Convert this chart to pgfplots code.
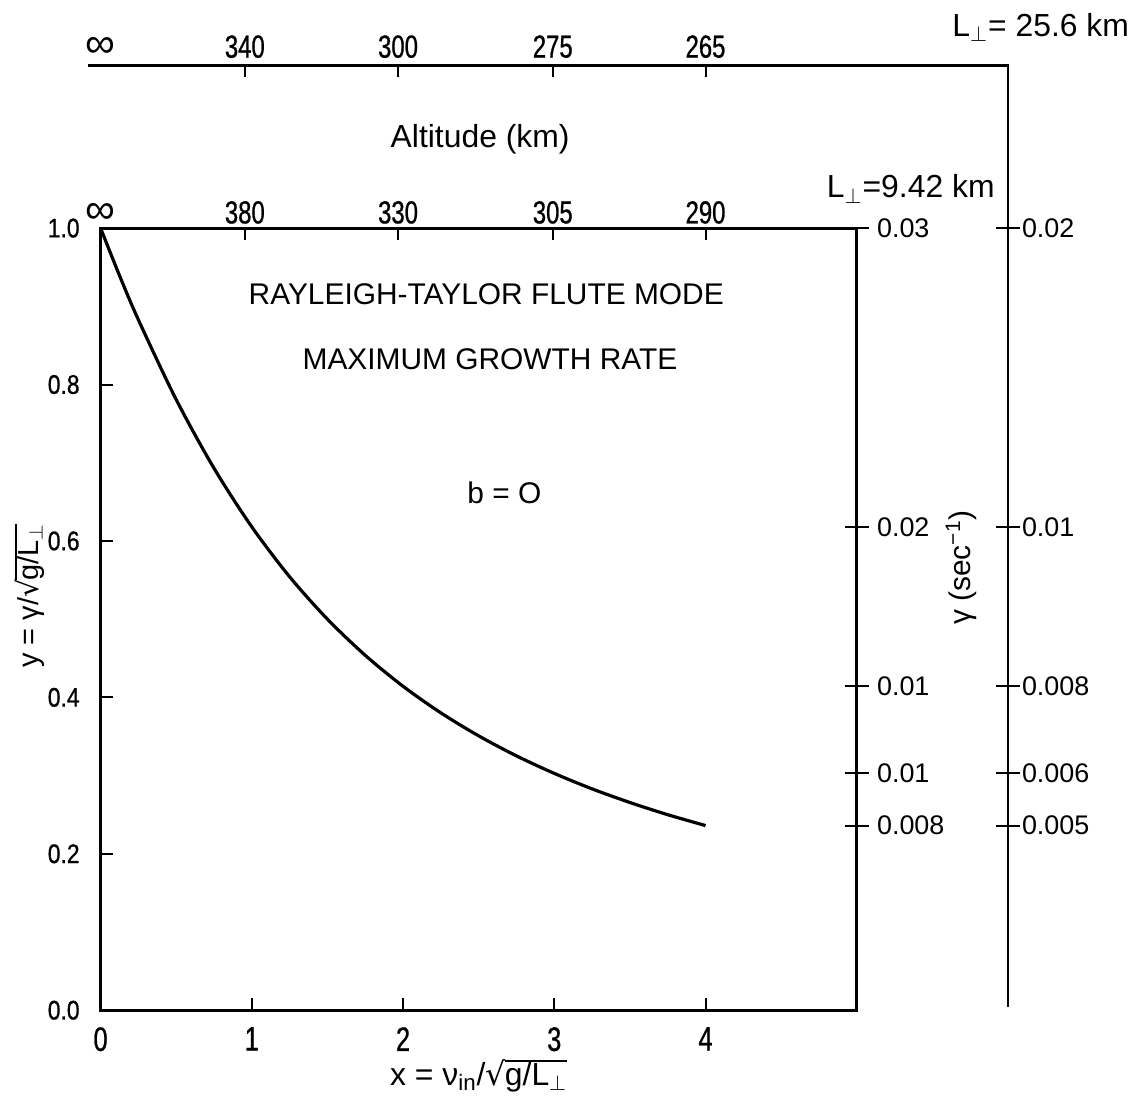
\documentclass[border=0pt]{standalone}
\usepackage{pgfplots}
\pgfplotsset{compat=1.18}
\usepackage{fontspec}
\setmainfont{Liberation Sans}
\newfontfamily\condfont[FakeStretch=0.75,FakeBold=0.8]{Liberation Sans}
\newfontfamily\semicond[FakeStretch=0.85,FakeBold=0.8]{Liberation Sans}
\newfontfamily\djv{DejaVu Sans}
\newcommand\infsym{{\rmfamily\fontsize{21}{21}\selectfont ∞}}
\newlength\sqw
\newsavebox\radbox
\newcommand\flatsqrt[1]{\sbox\radbox{\djv √}\settowidth{\sqw}{#1}\usebox\radbox\kern-0.03em\rlap{\rule[\dimexpr\ht\radbox-0.07em\relax]{\sqw}{0.07em}}#1}
\tikzset{
  toptick/.style={line width=1pt},
  toplab/.style={font=\condfont\fontsize{16}{16}\selectfont, anchor=south, inner sep=2pt},
  rlab/.style={font=\fontsize{13.5}{14}\selectfont, anchor=west, inner sep=0pt},
}
\begin{document}
\begin{tikzpicture}
% main axis
\begin{axis}[
  scale only axis, width=379.5pt, height=392.5pt,
  xmin=0, xmax=5, ymin=0, ymax=1,
  clip=false,
  axis line style={line width=1.5pt},
  xtick={0,1,2,3,4},
  ytick={0,0.2,0.4,0.6,0.8,1.0},
  yticklabels={0.0,0.2,0.4,0.6,0.8,1.0},
  xtick pos=bottom, ytick pos=left,
  tick align=inside,
  major tick length=6pt,
  tick style={line width=1pt, black},
  /pgf/number format/assume math mode=true,
  xticklabel style={font=\condfont\fontsize{17}{17}\selectfont, yshift=-5pt},
  yticklabel style={font=\semicond\fontsize{13.5}{14}\selectfont, xshift=-7pt},
]
\path (axis cs:-0.665,-0.1185) rectangle (axis cs:6.772,1.2917);
\addplot[line width=1.6pt, black, smooth] coordinates {
(0,1.0) (0.125,0.9395) (0.25,0.8828) (0.5,0.7808) (0.75,0.6930) (1.0,0.6180)
(1.25,0.5542) (1.5,0.5) (1.75,0.4538) (2.0,0.4142) (2.25,0.3802) (2.5,0.3508)
(2.75,0.3252) (3.0,0.3028) (3.25,0.2830) (3.5,0.2656) (3.75,0.25) (4.0,0.2361)
};
% texts inside
\node[font=\fontsize{15}{18}\selectfont] at (axis cs:2.55,0.915) {RAYLEIGH-TAYLOR FLUTE MODE};
\node[font=\fontsize{15}{18}\selectfont] at (axis cs:2.575,0.833) {MAXIMUM GROWTH RATE};
\node[font=\fontsize{15}{18}\selectfont] at (axis cs:2.67,0.662) {b = O};
% axis labels
\node[font=\fontsize{16}{18}\selectfont] at (axis cs:2.5,-0.084) {x = ν\textsubscript{in}/\flatsqrt{g/L$_\perp$}};
\node[font=\fontsize{14.5}{16}\selectfont, rotate=90, inner sep=0pt] at (axis cs:-0.47,0.53) {y = γ/\flatsqrt{g/L$_\perp$}};
\node[font=\fontsize{15}{18}\selectfont, rotate=90] at (axis cs:5.69,0.566) {γ (sec\textsuperscript{−1})};
\node[font=\fontsize{16}{18}\selectfont] at (axis cs:2.51,1.113) {Altitude (km)};
\node[font=\fontsize{16}{18}\selectfont, anchor=west, inner sep=0pt] at (axis cs:4.80,1.05) {L$_\perp$=9.42 km};
\node[font=\fontsize{16}{18}\selectfont, anchor=west, inner sep=0pt] at (axis cs:5.63,1.257) {L$_\perp$= 25.6 km};
% outer axes (L = 25.6 km)
\draw[line width=1.5pt] (axis cs:-0.08,1.208) -- (axis cs:6,1.208) -- (axis cs:6,0.004);
\draw[toptick] (axis cs:0.954,1.208) -- ++(0,-6pt);
\draw[toptick] (axis cs:1.967,1.208) -- ++(0,-6pt);
\draw[toptick] (axis cs:2.99,1.208) -- ++(0,-6pt);
\draw[toptick] (axis cs:4.0,1.208) -- ++(0,-6pt);
\node[toplab] at (axis cs:0,1.212) {\infsym};
\node[toplab] at (axis cs:0.954,1.212) {340};
\node[toplab] at (axis cs:1.967,1.212) {300};
\node[toplab] at (axis cs:2.99,1.212) {275};
\node[toplab] at (axis cs:4.0,1.212) {265};
\draw[toptick] (axis cs:6,1.0) ++(-6pt,0) -- ++(12pt,0);
\draw[toptick] (axis cs:6,0.618) ++(-6pt,0) -- ++(12pt,0);
\draw[toptick] (axis cs:6,0.414) ++(-6pt,0) -- ++(12pt,0);
\draw[toptick] (axis cs:6,0.303) ++(-6pt,0) -- ++(12pt,0);
\draw[toptick] (axis cs:6,0.236) ++(-6pt,0) -- ++(12pt,0);
\node[rlab] at (axis cs:6.09,1.0) {0.02};
\node[rlab] at (axis cs:6.09,0.618) {0.01};
\node[rlab] at (axis cs:6.09,0.414) {0.008};
\node[rlab] at (axis cs:6.09,0.303) {0.006};
\node[rlab] at (axis cs:6.09,0.236) {0.005};
\end{axis}
% inner top axis (altitude, L = 9.42 km)
\begin{axis}[
  scale only axis, width=379.5pt, height=392.5pt,
  xmin=0, xmax=5, ymin=0, ymax=1,
  axis x line=top, axis y line=none,
  axis line style={draw=none},
  xtick={0,0.954,1.967,2.99,4.0},
  xticklabels={\infsym,380,330,305,290},
  tick align=inside, major tick length=6pt,
  tick style={line width=1pt, black},
  xticklabel style={font=\condfont\fontsize{16}{16}\selectfont, inner sep=2pt},
]
\end{axis}
% inner right axis (gamma, L = 9.42 km)
\begin{axis}[
  scale only axis, width=379.5pt, height=392.5pt,
  xmin=0, xmax=5, ymin=0, ymax=1,
  axis y line=right, axis x line=none,
  axis line style={draw=none},
  ytick={0.236,0.303,0.414,0.618,1.0},
  yticklabels={0.008,0.01,0.01,0.02,0.03},
  tick align=center, major tick length=12pt,
  tick style={line width=1pt, black},
  yticklabel style={font=\fontsize{13.5}{14}\selectfont, inner sep=0pt, xshift=4pt},
]
\end{axis}
\end{tikzpicture}
\end{document}
